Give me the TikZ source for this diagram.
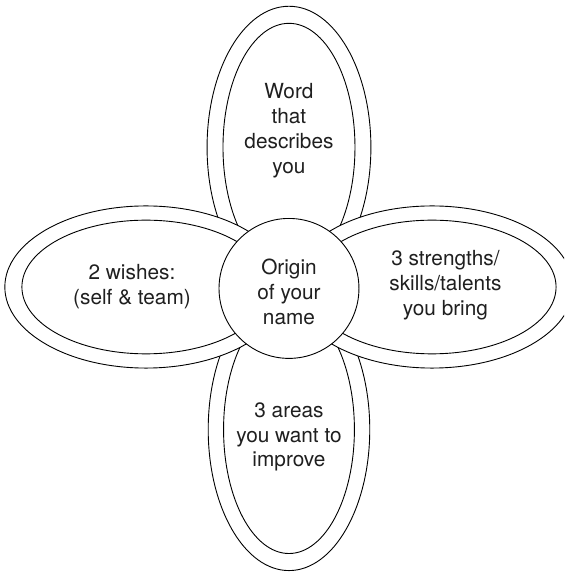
\documentclass[tikz,border=0pt]{standalone}
\usepackage{fontspec}
\setmainfont{TeX Gyre Heros}
\begin{document}
\begin{tikzpicture}[
  font=\fontsize{20.8}{25}\selectfont,
  petalout/.style={draw, line width=0.9pt, fill=white},
  petalin/.style={draw, line width=0.9pt},
  hub/.style={draw, circle, line width=0.9pt, fill=white, minimum size=4.92cm, inner sep=0pt},
  txt/.style={align=center, text=black!88, inner sep=0pt}
]
\useasboundingbox (-10.16,-9.97) rectangle (9.67,10.14);
\clip (-10.16,-9.97) rectangle (9.67,10.14);

% vertical petals first, side petals lie over them
\draw[petalout] (0,4.96) ellipse (2.88cm and 4.96cm);
\draw[petalin] (0,4.96) ellipse (2.32cm and 4.36cm);
\draw[petalout] (0,-4.96) ellipse (2.84cm and 4.96cm);
\draw[petalin] (0,-4.96) ellipse (2.30cm and 4.36cm);
\draw[petalout] (-5.03,0.05) ellipse (4.96cm and 2.85cm);
\draw[petalin] (-5.03,0.05) ellipse (4.36cm and 2.35cm);
\draw[petalout] (5.03,0.05) ellipse (4.96cm and 2.85cm);
\draw[petalin] (5.03,0.05) ellipse (4.36cm and 2.35cm);

\node[hub] (origin) at (0,0) {};
\node[txt] (name) at (0,-0.12) {Origin\\of your\\name};

\node[txt] (word) at (0,5.54) {Word\\that\\describes\\you};
\node[txt] (wishes) at (-5.52,0.05) {2 wishes:\\(self \& team)};
\node[txt] (strengths) at (5.5,0.1) {3 strengths/\\skills/talents\\you bring};
\node[txt] (areas) at (0,-5.22) {3 areas\\you want to\\improve};
\end{tikzpicture}
\end{document}
